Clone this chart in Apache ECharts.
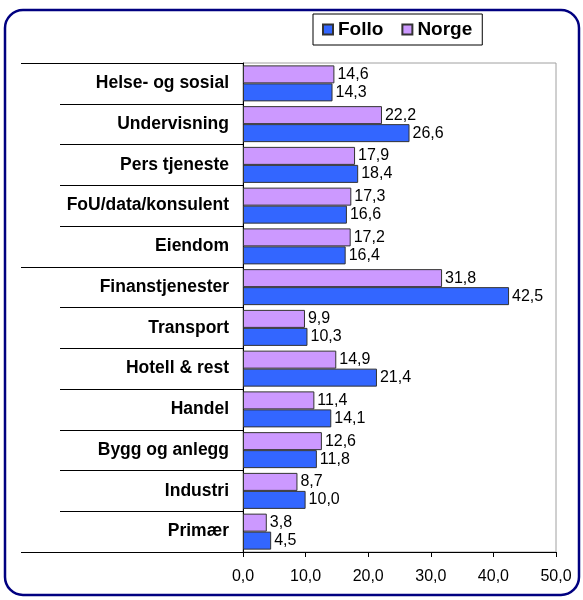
<!DOCTYPE html>
<html>
<head>
<meta charset="utf-8">
<script src="https://cdn.jsdelivr.net/npm/echarts@6/dist/echarts.min.js"></script>
<style>
  html, body { margin: 0; padding: 0; background: #fff; }
  #chart { width: 583px; height: 600px; }
</style>
</head>
<body>
<div id="chart"></div>
<script>
// categories top -> bottom
var categories = ['Helse- og sosial', 'Undervisning', 'Pers tjeneste', 'FoU/data/konsulent', 'Eiendom',
  'Finanstjenester', 'Transport', 'Hotell & rest', 'Handel', 'Bygg og anlegg', 'Industri', 'Primær'];
var folloValues = [14.3, 26.6, 18.4, 16.6, 16.4, 42.5, 10.3, 21.4, 14.1, 11.8, 10.0, 4.5];
var norgeValues = [14.6, 22.2, 17.9, 17.3, 17.2, 31.8, 9.9, 14.9, 11.4, 12.6, 8.7, 3.8];
var majorBreaks = [0, 5]; // long separator lines above these categories

var font = '"Liberation Sans", Arial, sans-serif';

function fmt(v) {
  return v.toFixed(1).replace('.', ',');
}

var chart = echarts.init(document.getElementById('chart'));
chart.setOption({
  animation: false,
  backgroundColor: '#fff',
  graphic: [{
    type: 'rect',
    shape: { x: 5, y: 10, width: 574, height: 585, r: 18 },
    style: { fill: 'none', stroke: '#000080', lineWidth: 2.5 },
    z: 100
  }],
  legend: {
    data: ['Follo', 'Norge'],
    left: 313,
    top: 14,
    padding: [6, 10, 6, 9],
    borderColor: '#000',
    borderWidth: 1,
    backgroundColor: '#fff',
    itemWidth: 10,
    itemHeight: 10,
    itemGap: 18,
    icon: 'rect',
    textStyle: { fontFamily: font, fontWeight: 'bold', fontSize: 19, color: '#000' }
  },
  grid: {
    left: 243,
    right: 27,
    top: 63,
    bottom: 48,
    show: true,
    borderColor: '#a0a0a0',
    borderWidth: 1
  },
  xAxis: {
    type: 'value',
    min: 0,
    max: 50,
    interval: 10,
    axisLine: { show: true, lineStyle: { color: '#000', width: 1 } },
    axisTick: { show: true, length: 5, lineStyle: { color: '#000' } },
    splitLine: { show: false },
    axisLabel: {
      margin: 17,
      fontFamily: font,
      fontSize: 16,
      color: '#000',
      formatter: function (v) { return fmt(v); }
    }
  },
  yAxis: [{
    type: 'category',
    data: categories,
    inverse: true,
    axisLine: { show: true, lineStyle: { color: '#000', width: 1 } },
    axisTick: { show: true, length: 183, lineStyle: { color: '#000' } },
    axisLabel: {
      margin: 14,
      fontFamily: font,
      fontWeight: 'bold',
      fontSize: 17.5,
      color: '#000'
    }
  }, {
    type: 'category',
    data: categories,
    inverse: true,
    position: 'left',
    axisLine: { show: false },
    axisLabel: { show: false },
    axisTick: {
      show: true,
      length: 222,
      interval: function (idx) { return majorBreaks.indexOf(idx) >= 0; },
      lineStyle: { color: '#000' }
    }
  }],
  series: [{
    name: 'Norge',
    type: 'bar',
    data: norgeValues,
    barWidth: 18,
    barGap: '0%',
    itemStyle: { color: '#CC99FF', borderColor: '#333', borderWidth: 1 },
    label: {
      show: true,
      position: 'right',
      distance: 3,
      fontFamily: font,
      fontSize: 16,
      color: '#000',
      formatter: function (p) { return fmt(p.value); }
    }
  }, {
    name: 'Follo',
    type: 'bar',
    data: folloValues,
    barWidth: 18,
    barGap: '0%',
    itemStyle: { color: '#3366FF', borderColor: '#333', borderWidth: 1 },
    label: {
      show: true,
      position: 'right',
      distance: 3,
      fontFamily: font,
      fontSize: 16,
      color: '#000',
      formatter: function (p) { return fmt(p.value); }
    }
  }]
});
</script>
</body>
</html>
